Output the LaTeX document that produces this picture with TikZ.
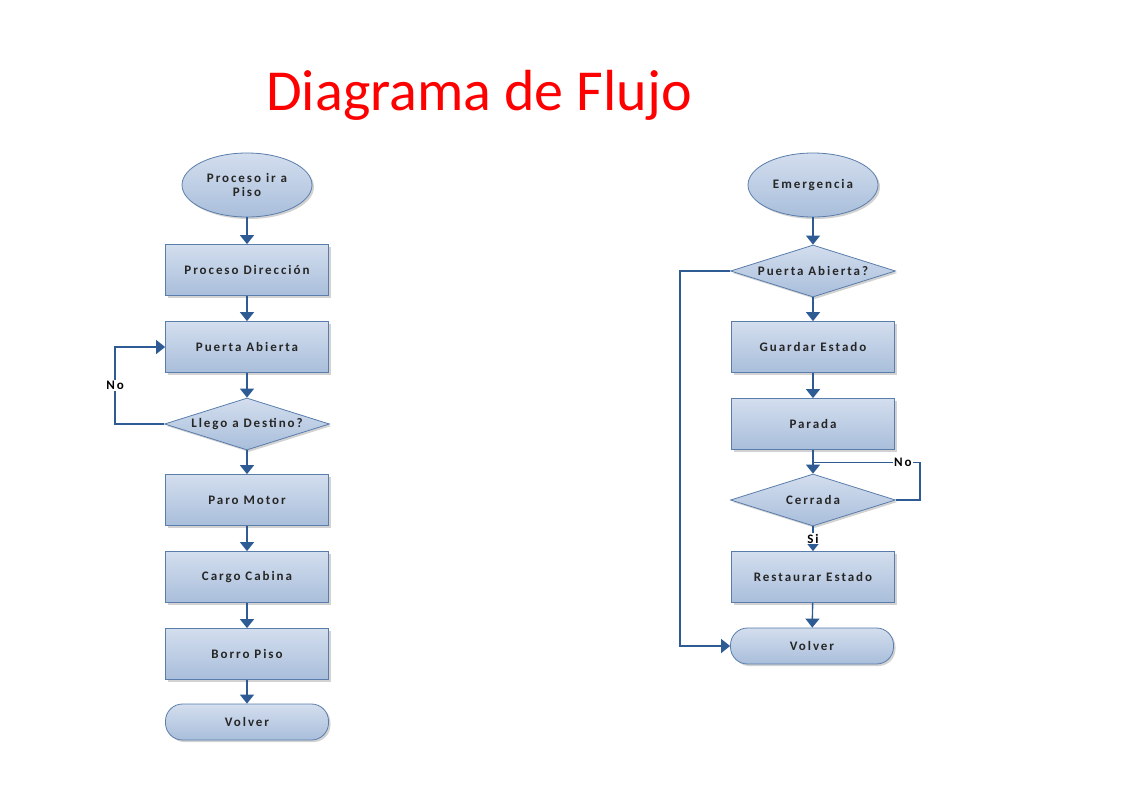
\documentclass[tikz,border=0pt]{standalone}
\usepackage{fontspec}
\setmainfont{Carlito}
\newfontfamily\boxfont[LetterSpace=15]{Carlito}
\usepackage{tikz}
\usetikzlibrary{shapes.geometric,shadows,arrows.meta,positioning}
\definecolor{flowblue}{HTML}{2E5B94}
\definecolor{edgeblue}{HTML}{5A7DAB}
\definecolor{filltop}{HTML}{D3DEEE}
\definecolor{fillbot}{HTML}{A9BEDB}
\newcommand{\ctext}[1]{\makebox[0pt]{#1}}

\begin{document}
\begin{tikzpicture}[x=1pt,y=-1pt,
  shape base/.style={draw=edgeblue, line width=0.8pt, top color=filltop, bottom color=fillbot,
    drop shadow={shadow xshift=2pt, shadow yshift=-2pt, opacity=0.35, fill=gray},
    font=\boxfont\bfseries\fontsize{13}{14}\selectfont, text=black!85, inner sep=0pt},
  procbox/.style={shape base, rectangle, minimum width=163, minimum height=51},
  decide/.style={shape base, diamond, minimum width=165, minimum height=52},
  startc/.style={shape base, ellipse, minimum width=130, minimum height=64, align=center},
  endterm/.style={shape base, rectangle, rounded corners=17, minimum width=163, minimum height=36},
  flow/.style={draw=flowblue, line width=1.4pt, -{Triangle[width=14pt,length=9pt]}},
  link/.style={draw=flowblue, line width=1.4pt},
  lbl/.style={fill=white, inner sep=1pt, font=\boxfont\bfseries\fontsize{13}{14}\selectfont}]
  \useasboundingbox[fill=white] (0,0) rectangle (1122,793);
  % Title
  \node[anchor=base, text=red, font=\fontsize{58}{60}\selectfont] (title) at (479,110) {Diagrama de Flujo};
  % Left column
  \node[startc]  (c1) at (247,185) {Proceso ir a\\Piso};
  \node[procbox] (b1) at (247,270) {Proceso Dirección};
  \node[procbox] (b2) at (247,347) {Puerta Abierta};
  \node[decide]  (d1) at (247,424) {\ctext{Llego a Destino?}};
  \node[procbox] (b3) at (247,500) {Paro Motor};
  \node[procbox] (b4) at (247,577) {Cargo Cabina};
  \node[procbox] (b5) at (247,654) {Borro Piso};
  \node[endterm] (t1) at (247,722) {Volver};
  \draw[flow] (c1) -- (b1);
  \draw[flow] (b1) -- (b2);
  \draw[flow] (b2) -- (d1);
  \draw[flow] (d1) -- (b3);
  \draw[flow] (b3) -- (b4);
  \draw[flow] (b4) -- (b5);
  \draw[flow] (b5) -- (t1);
  \draw[flow] (d1.west) -- ++(-49,0) |- (b2.west) node[lbl, pos=0.25] {No};
  % Right column
  \node[startc]  (c2) at (813,185) {Emergencia};
  \node[decide]  (d2) at (813,271) {\ctext{Puerta Abierta?}};
  \node[procbox] (b6) at (813,347) {Guardar Estado};
  \node[procbox] (b7) at (813,424) {Parada};
  \node[decide]  (d3) at (813,500) {\ctext{Cerrada}};
  \node[procbox] (b8) at (813,577) {Restaurar Estado};
  \node[endterm] (t2) at (812,646) {Volver};
  \coordinate (m3) at (813,462.5);
  \draw[flow] (c2) -- (d2);
  \draw[flow] (d2) -- (b6);
  \draw[flow] (b6) -- (b7);
  \draw[flow] (b7) -- (d3);
  \draw[flow] (d3) -- (b8) node[lbl, midway] {Si};
  \draw[flow] (b8) -- (t2);
  \draw[flow] (d2.west) -- ++(-50,0) |- (t2.west);
  \draw[link] (d3.east) -- ++(24,0) |- (m3) node[lbl, pos=0.58] {No};
\end{tikzpicture}
\end{document}
